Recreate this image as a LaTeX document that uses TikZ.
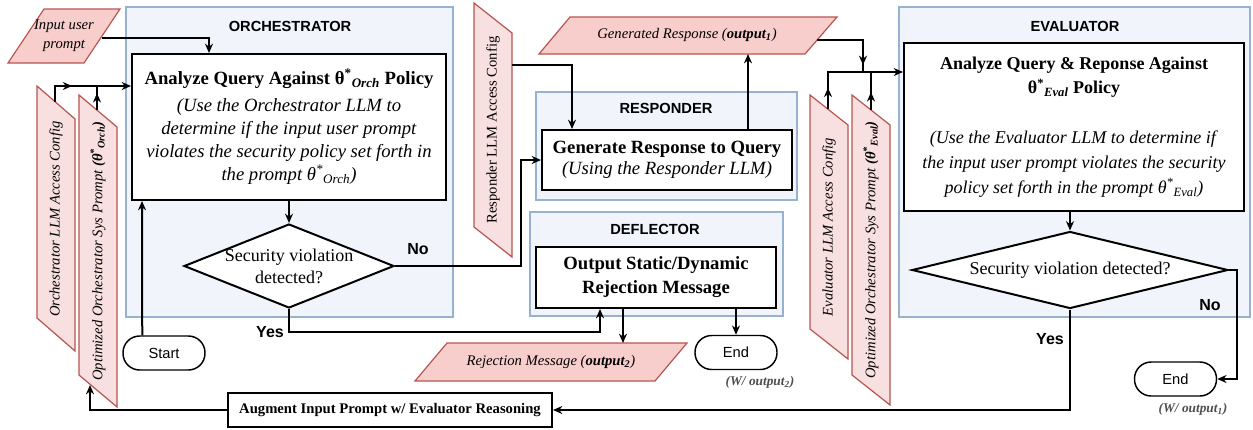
\documentclass[tikz,border=0pt]{standalone}
\usepackage{fontspec}
\setmainfont{Liberation Serif}
\setsansfont{Liberation Sans}
\usetikzlibrary{arrows.meta,shapes.geometric,decorations.markings,calc}
\definecolor{PanelFill}{RGB}{241,245,251}
\definecolor{PanelLine}{RGB}{150,178,208}
\definecolor{DataFill}{RGB}{248,206,204}
\definecolor{FeedFill}{RGB}{249,224,224}
\definecolor{DataLine}{RGB}{184,84,80}
\definecolor{NoteClr}{RGB}{77,77,77}

\begin{document}
\begin{tikzpicture}[x=0.75pt,y=-0.75pt,
  panel/.style={draw=PanelLine,fill=PanelFill,line width=1pt},
  ptitle/.style={font=\sffamily\bfseries\fontsize{11}{13}\selectfont},
  proc/.style={draw,fill=white,line width=1.5pt,align=center,inner sep=2pt},
  decision/.style={diamond,draw,fill=white,line width=1.5pt,align=center,inner sep=0pt,font=\fontsize{13.5}{16.5}\selectfont},
  term/.style={draw,fill=white,line width=1.1pt,rounded corners=12.5pt,minimum width=61.5pt,minimum height=25.5pt,font=\sffamily\fontsize{11}{13}\selectfont},
  data/.style={draw=DataLine,fill=DataFill,line width=0.9pt},
  feed/.style={draw=DataLine,fill=FeedFill,line width=0.9pt},
  dtext/.style={font=\itshape\fontsize{11}{14}\selectfont,align=center},
  vtext/.style={rotate=90,font=\itshape\fontsize{11}{13}\selectfont},
  flow/.style={line width=1.5pt,-{Stealth[length=7pt,width=6pt]}},
  wire/.style={line width=1.5pt},
  midtip/.style={postaction={decorate},decoration={markings,mark=at position #1 with {\arrow{Stealth[length=7pt,width=6pt]}}}},
  answer/.style={font=\sffamily\bfseries\fontsize{12}{14}\selectfont},
  note/.style={font=\bfseries\itshape\fontsize{10}{12}\selectfont,text=NoteClr}
]
\useasboundingbox (0,0) rectangle (1253,429);

% panels
\path[panel] (126,7) rectangle (453,317);
\path[panel] (536,92) rectangle (797,200);
\path[panel] (530,212) rectangle (783,316);
\path[panel] (899,7) rectangle (1250,317);
\node[ptitle] (tOrch) at (290,26) {ORCHESTRATOR};
\node[ptitle] (tResp) at (666,108) {RESPONDER};
\node[ptitle] (tDefl) at (655,229) {DEFLECTOR};
\node[ptitle] (tEval) at (1075,26) {EVALUATOR};

% inputs
\path[data] (8,63) -- (44,9) -- (120,9) -- (84,63) -- cycle;
\node[dtext] (inp) at (64,36) {Input user\\prompt};
\coordinate (inpR) at (102,38);

\path[feed] (37,86) -- (75,119) -- (75,351) -- (37,318) -- cycle;
\node[vtext] (cfgO) at (56,219) {Orchestrator LLM Access Config};
\coordinate (cfgOtop) at (55,102);
\path[feed] (79,95) -- (117,127) -- (117,407) -- (79,375) -- cycle;
\node[vtext] (sysO) at (98,251) {Optimized Orchestrator Sys Prompt \textbf{(θ\textsuperscript{*}\textsubscript{Orch})}};
\coordinate (sysOtop) at (97,110);
\coordinate (sysObot) at (90,385);

\path[feed] (474,3) -- (512,33) -- (512,257) -- (474,227) -- cycle;
\node[vtext,font=\fontsize{11}{13}\selectfont] (cfgR) at (493,130) {Responder LLM Access Config};
\coordinate (cfgRr) at (512,65);

\path[feed] (810,95) -- (848,125) -- (848,359) -- (810,329) -- cycle;
\node[vtext] (cfgE) at (829,227) {Evaluator LLM Access Config};
\coordinate (cfgEtop) at (828,109);
\path[feed] (852,95) -- (890,125) -- (890,405) -- (852,375) -- cycle;
\node[vtext] (sysE) at (871,250) {Optimized Orchestrator Sys Prompt \textbf{(θ\textsuperscript{*}\textsubscript{Eval})}};
\coordinate (sysEtop) at (871,110);

% outputs
\path[data] (539,54) -- (570,17) -- (837,17) -- (805,54) -- cycle;
\node[dtext] (outG) at (687,35) {Generated Response (\textbf{output\textsubscript{1}})};
\coordinate (outGb) at (748,54);
\coordinate (outGr) at (817,40);
\path[data] (415,381) -- (447,343) -- (687,343) -- (655,381) -- cycle;
\node[dtext] (outR) at (551,362) {Rejection Message (\textbf{output\textsubscript{2}})};
\coordinate (rejTop) at (623,343);

% process steps
\node[proc,minimum width=235.5pt,minimum height=109.5pt,font=\fontsize{14}{17.25}\selectfont] (orchA) at (289,127)
  {\textbf{Analyze Query Against θ\textsuperscript{*}\textsubscript{\textit{Orch}} Policy}\\[3pt]
   \textit{(Use the Orchestrator LLM to}\\
   \textit{determine if the input user prompt}\\
   \textit{violates the security policy set forth in}\\
   \textit{the prompt θ\textsuperscript{*}\textsubscript{Orch})}};
\node[decision,aspect=2.5,inner xsep=-8pt,inner ysep=-1pt,minimum width=157.5pt,minimum height=63pt] (orchD) at (289,266)
  {Security violation\\detected?};
\node[term] (start) at (164,353) {Start};

\node[proc,minimum width=187.5pt,minimum height=45pt,font=\fontsize{14}{16}\selectfont] (gen) at (667,160)
  {\textbf{Generate Response to Query}\\\textit{(Using the Responder LLM)}};

\node[proc,minimum width=180pt,minimum height=45.75pt,font=\bfseries\fontsize{14}{18}\selectfont] (defl) at (656,277.5)
  {Output Static/Dynamic\\Rejection Message};
\node[term] (endD) at (736,352.5) {End};
\node[note] (wO2) at (760,382) {(W/ output\textsubscript{2})};

\node[proc,minimum width=255pt,minimum height=126pt,font=\fontsize{13.5}{18.5}\selectfont] (evalA) at (1074,127)
  {\textbf{Analyze Query \& Reponse Against}\\
   \textbf{θ\textsuperscript{*}\textsubscript{\textit{Eval}} Policy}\\[19pt]
   \textit{(Use the Evaluator LLM to determine if}\\
   \textit{the input user prompt violates the security}\\
   \textit{policy set forth in the prompt θ\textsuperscript{*}\textsubscript{Eval})}};
\node[decision,aspect=4.1,minimum width=237pt,minimum height=57.75pt] (evalD) at (1070,270)
  {Security violation detected?};
\node[term] (endE) at (1175.5,379) {End};
\node[note] (wO1) at (1193,409) {(W/ output\textsubscript{1})};

\node[proc,minimum width=243pt,minimum height=25.5pt,font=\bfseries\fontsize{11}{13}\selectfont] (aug) at (390,410)
  {Augment Input Prompt w/ Evaluator Reasoning};

% connectors
\coordinate (jO) at (55,86);
\coordinate (jE) at (828,72);
\coordinate (jG) at (863,72);
\coordinate (noBend) at (521,160);
\coordinate (yesBend) at (600,332);
\coordinate (noEBend) at (1237,379);

\draw[flow] (inpR) -| ($(orchA.north west)+(78,0)$);
\draw[flow,midtip=0.36] (cfgOtop) |- (jO -| orchA.west);
\draw[wire,midtip=0.7] (sysOtop) -- (sysOtop |- jO);
\draw[flow] ($(start.north west)+(20,0)$) -- ($(orchA.south west)+(11,0)$);
\draw[flow] (orchA.south) -- (orchD.north);
\draw[flow] (orchD.east) -| (noBend) -- (gen.west);
\node[answer] (noO) at (418,249) {No};
\draw[flow] (orchD.south) |- (yesBend) -- (yesBend |- defl.south);
\node[answer] (yesO) at (270,332) {Yes};

\draw[flow] (cfgRr) -| ($(gen.north west)+(31,0)$);
\draw[flow] (gen.north -| outGb) -- (outGb);
\draw[flow] (defl.south -| rejTop) -- (rejTop);
\draw[flow] (defl.south -| endD) -- (endD.north);

\draw[wire,midtip=0.91] (outGr) -| (jG);
\draw[flow,midtip=0.19] (cfgEtop) |- (jE -| evalA.west);
\draw[wire,midtip=0.47] (sysEtop) -- (sysEtop |- jE);
\draw[flow] (evalA.south -| evalD) -- (evalD.north);
\draw[flow] (evalD.east) -| (noEBend) -- (endE.east);
\node[answer] (noE) at (1210,305) {No};
\draw[flow] (evalD.south) |- (aug.east);
\node[answer] (yesE) at (1050,339) {Yes};
\draw[flow] (aug.west) -| (sysObot);

\end{tikzpicture}
\end{document}
